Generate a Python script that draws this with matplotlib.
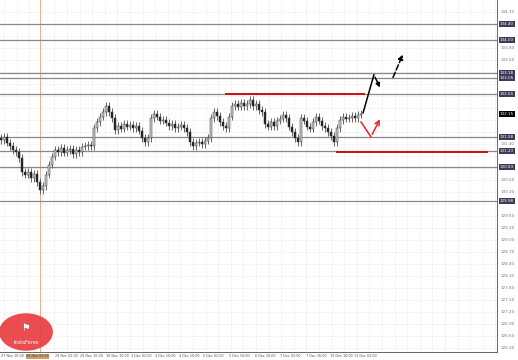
import matplotlib
matplotlib.use("Agg")
import matplotlib.pyplot as plt
import numpy as np
from matplotlib.patches import Circle

# closing prices, one candle every ~3 px
closes = [131.50, 131.58, 131.43, 131.35, 131.25, 131.20, 131.05, 130.70, 130.63, 130.70,
          130.55, 130.65, 130.45, 130.25, 130.35, 130.63, 130.88, 131.08, 131.25, 131.20,
          131.30, 131.18, 131.25, 131.28, 131.15, 131.25, 131.20, 131.33, 131.35, 131.38,
          131.35, 131.80, 131.95, 132.08, 132.20, 132.35, 132.20, 132.05, 131.75, 131.85,
          131.78, 131.90, 131.83, 131.88, 131.80, 131.85, 131.73, 131.55, 131.45, 131.55,
          132.05, 132.15, 132.08, 131.98, 132.00, 131.93, 131.85, 131.90, 131.80, 131.83,
          131.88, 131.80, 131.70, 131.45, 131.35, 131.43, 131.45, 131.40, 131.48, 131.55,
          132.05, 132.20, 132.10, 131.95, 131.85, 131.80, 132.08, 132.35, 132.40, 132.33,
          132.43, 132.35, 132.40, 132.50, 132.35, 132.40, 132.25, 132.20, 131.90, 131.83,
          131.95, 131.85, 131.98, 132.03, 132.13, 132.05, 131.83, 131.70, 131.55, 131.45,
          132.05, 131.98, 131.83, 131.78, 131.95, 132.08, 131.98, 131.85, 131.80, 131.70,
          131.60, 131.45, 131.80, 132.00, 132.08, 132.03, 132.05, 132.10, 132.05, 132.13,
          132.15]

# horizontal support / resistance levels (gray)
levels = [134.40, 134.00, 133.18, 133.05, 132.65, 131.58, 131.23, 130.83, 129.98]

# red levels: (price, start candle, end candle)
red_upper = (132.65, 75, 121)
red_lower = (131.20, 112, 162)

# forecast paths (candle index, price)
black_path_x = [120.7, 124.3, 126.7]
black_path_y = [132.18, 133.13, 132.75]
dashed_x = [130.3, 134.3]
dashed_y = [133.00, 133.70]
red_path_x = [120.0, 123.3, 126.7]
red_path_y = [131.95, 131.58, 132.08]

time_labels = ["27 Nov 16:00", "29 Nov 02:00", "29 Nov 16:00", "30 Nov 10:00",
               "3 Dec 02:00", "3 Dec 16:00", "4 Dec 10:00", "5 Dec 02:00",
               "5 Dec 16:00", "6 Dec 10:00", "7 Dec 02:00", "7 Dec 16:00",
               "10 Dec 10:00", "11 Dec 02:00"]
time_idx = [0, 18, 26.5, 35, 43.5, 51.5, 59.5, 67.5, 76, 84.5, 93, 101.5, 109.5, 117.5]
cross_idx = 13
cross_label = "28 Nov 02:00"

price_ticks = np.round(np.arange(126.30, 134.80, 0.30), 2)

fig = plt.figure(figsize=(5.18, 3.6), dpi=100)
fig.patch.set_facecolor("white")
ax = fig.add_axes([0.0, 8 / 360, 497 / 518, 352 / 360])
ax.set_xlim(-0.33, 165.33)
ax.set_ylim(126.2, 135.0)

# grid
for p in price_ticks:
    ax.axhline(p, color="#e4e4e4", lw=0.5, ls=(0, (1, 1)), zorder=0)
for gx in np.arange(1, 166, 4.2):
    ax.axvline(gx, color="#e4e4e4", lw=0.5, ls=(0, (1, 1)), zorder=0)

# candles
idx = np.arange(len(closes))
c = np.array(closes)
o = np.concatenate([[c[0] + 0.05], c[:-1]])
hi = np.maximum(o, c) + 0.09
lo = np.minimum(o, c) - 0.09
ax.vlines(idx, lo, hi, color="#666666", lw=0.7, zorder=3)
body = np.maximum(np.abs(c - o), 0.03)
ax.bar(idx, body, bottom=np.minimum(o, c), width=0.8,
       color=np.where(c >= o, "#cccccc", "#222222"), edgecolor="#333333",
       linewidth=0.35, zorder=4)

# levels
for lv in levels:
    ax.axhline(lv, color="#888888", lw=0.9, zorder=2)
ax.plot([red_upper[1], red_upper[2]], [red_upper[0]] * 2, color="#cc1111", lw=1.4, zorder=5)
ax.plot([red_lower[1], red_lower[2]], [red_lower[0]] * 2, color="#cc1111", lw=1.4, zorder=5)

# crosshair
ax.axvline(cross_idx, color="#d9b48a", lw=0.7, zorder=1)

# forecast arrows
ax.plot(black_path_x[:2], black_path_y[:2], color="black", lw=1.1, zorder=6)
ax.annotate("", xy=(black_path_x[2], black_path_y[2]), xytext=(black_path_x[1], black_path_y[1]),
            arrowprops=dict(arrowstyle="-|>", color="black", lw=1.1, mutation_scale=6), zorder=6)
ax.annotate("", xy=(dashed_x[1], dashed_y[1]), xytext=(dashed_x[0], dashed_y[0]),
            arrowprops=dict(arrowstyle="-|>", color="black", lw=1.1, ls="--", mutation_scale=7),
            zorder=6)
ax.plot(red_path_x[:2], red_path_y[:2], color="#ee2222", lw=1.1, zorder=6)
ax.annotate("", xy=(red_path_x[2], red_path_y[2]), xytext=(red_path_x[1], red_path_y[1]),
            arrowprops=dict(arrowstyle="->", color="#ee2222", lw=1.1, mutation_scale=8), zorder=6)

# axes frame
for s in ["top", "left"]:
    ax.spines[s].set_visible(False)
ax.spines["right"].set_color("#666666")
ax.spines["bottom"].set_color("#666666")
ax.spines["right"].set_linewidth(0.7)
ax.spines["bottom"].set_linewidth(0.7)
ax.set_yticks([])
ax.set_xticks([])

# price scale
for p in price_ticks:
    if min(abs(p - lv) for lv in levels + [closes[-1]]) < 0.16:
        continue
    ax.text(1.008, p, f"{p:.2f}", transform=ax.get_yaxis_transform(), fontsize=3.0,
            color="#777777", va="center", ha="left")
for lv in levels:
    ax.text(1.006, lv, f"{lv:.2f}", transform=ax.get_yaxis_transform(), fontsize=3.0,
            color="white", va="center", ha="left", zorder=10,
            bbox=dict(boxstyle="square,pad=0.2", fc="#3c3c5a", ec="none"))
ax.text(1.006, closes[-1], f"{closes[-1]:.2f}", transform=ax.get_yaxis_transform(), fontsize=3.0,
        color="white", va="center", ha="left", zorder=11,
        bbox=dict(boxstyle="square,pad=0.2", fc="black", ec="none"))

# time scale
for lab, t in zip(time_labels, time_idx):
    ax.text(t, -0.006, lab, transform=ax.get_xaxis_transform(), fontsize=2.4,
            color="#555555", va="top", ha="left")
ax.text(cross_idx - 4.6, -0.006, cross_label, transform=ax.get_xaxis_transform(), fontsize=2.4,
        color="#553311", va="top", ha="left", zorder=12,
        bbox=dict(boxstyle="square,pad=0.15", fc="#c9a273", ec="none"))

# watermark logo
fig.patches.append(Circle((26 / 518, 1 - 332 / 360), 0.052, transform=fig.transFigure,
                          fc="#e8383d", ec="none", alpha=0.9, zorder=20))
fig.text(26 / 518, 1 - 328 / 360, "\u2691", color="white", fontsize=7, ha="center",
         va="center", zorder=21)
fig.text(26 / 518, 1 - 343 / 360, "InstaForex", color="white", fontsize=3.5, ha="center",
         va="center", zorder=21)

fig.savefig("out.png", dpi=100, facecolor="white")
